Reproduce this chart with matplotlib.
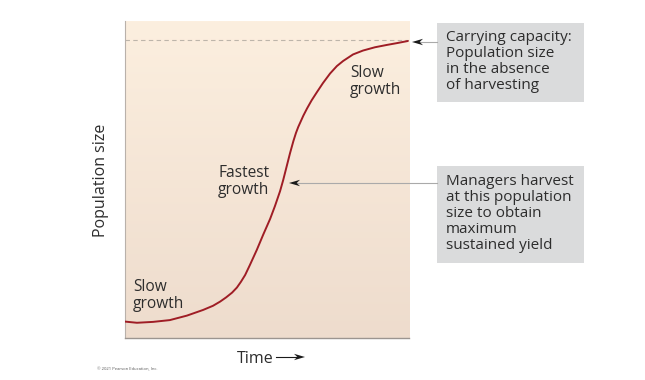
import matplotlib
matplotlib.use("Agg")
import matplotlib.pyplot as plt
import numpy as np
from matplotlib.colors import LinearSegmentedColormap
from matplotlib.patches import Rectangle, Polygon

# ── Data ─────────────────────────────────────────────────────────────────────
time = [0.00, 0.42, 0.99, 1.58, 2.18, 2.75, 3.10, 3.35, 3.56, 3.77, 3.94,
        4.08, 4.23, 4.40, 4.64, 4.87, 5.11, 5.28, 5.46, 5.57, 5.69, 5.81,
        5.93, 6.02, 6.10, 6.28, 6.41, 6.57, 6.76, 6.97, 7.22, 7.46, 7.68,
        8.03, 8.38, 8.80, 9.23, 9.58, 9.96]
population = [0.055, 0.051, 0.054, 0.060, 0.075, 0.094, 0.108, 0.122, 0.136,
              0.152, 0.169, 0.188, 0.211, 0.245, 0.295, 0.347, 0.399, 0.442,
              0.492, 0.529, 0.574, 0.619, 0.660, 0.687, 0.707, 0.745, 0.769,
              0.796, 0.824, 0.854, 0.886, 0.911, 0.928, 0.950, 0.963, 0.974,
              0.982, 0.988, 0.995]
carrying_capacity = 1.0

label_slow_top = "Slow\ngrowth"
label_fastest = "Fastest\ngrowth"
label_slow_bottom = "Slow\ngrowth"
box_capacity = "Carrying capacity:\nPopulation size\nin the absence\nof harvesting"
box_harvest = "Managers harvest\nat this population\nsize to obtain\nmaximum\nsustained yield"

W, H = 645, 380
FONT = "Open Sans"
TXT = "#2d2d2d"


def fx(px):
    return px / W


def fy(py):
    return 1 - py / H


fig = plt.figure(figsize=(W / 100, H / 100), dpi=100)
fig.patch.set_facecolor("white")
ax = fig.add_axes([fx(125), fy(338), (409 - 125) / W, (338 - 21) / H])

# background gradient
cmap = LinearSegmentedColormap.from_list("bg", ["#eedccd", "#fcefdf"])
grad = np.linspace(0, 1, 256).reshape(-1, 1)
ax.imshow(grad, cmap=cmap, aspect="auto", origin="lower",
          extent=[0, 10, 0, 1.062], zorder=0)

ax.axhline(carrying_capacity, color="#bdb5aa", lw=0.8, ls=(0, (4, 3)), zorder=1)
ax.plot(time, population, color="#9f1d25", lw=1.4, zorder=3,
        solid_joinstyle="round", solid_capstyle="round")

ax.set_xlim(0, 10)
ax.set_ylim(0, 1.062)
ax.set_xticks([])
ax.set_yticks([])
for s in ("top", "right"):
    ax.spines[s].set_visible(False)
ax.spines["left"].set_color("#b9b1aa")
ax.spines["left"].set_linewidth(0.8)
ax.spines["bottom"].set_color("#9c9590")
ax.spines["bottom"].set_linewidth(1.0)

# in-plot labels
kw = dict(family=FONT, fontsize=11.2, color=TXT, va="top", ha="left",
          linespacing=1.12)
fig.text(fx(350), fy(65), label_slow_top, **kw)
fig.text(fx(218), fy(165), label_fastest, **kw)
fig.text(fx(133), fy(279), label_slow_bottom, **kw)

# axis labels
fig.text(fx(101), fy(180), "Population size", family=FONT, fontsize=11.5,
         color=TXT, rotation=90, ha="center", va="center")
fig.text(fx(237), fy(363), "Time", family=FONT, fontsize=11.5, color=TXT,
         ha="left", va="baseline")


def arrow_head(x0, y0, direction=-1, length=11, half=3.2, color="#1a1a1a"):
    d = -direction
    pts = [(x0, y0), (x0 + d * length, y0 - half), (x0 + d * length * 0.7, y0),
           (x0 + d * length, y0 + half)]
    fig.patches.append(Polygon([(fx(a), fy(b)) for a, b in pts], closed=True,
                               transform=fig.transFigure, facecolor=color,
                               edgecolor="none", zorder=5))


# time arrow
fig.add_artist(plt.Line2D([fx(276), fx(298)], [fy(357), fy(357)],
                          color="#1a1a1a", lw=0.8, transform=fig.transFigure))
arrow_head(305, 357, direction=1, length=11, half=3.2)

# call-out boxes
for (x0, y0, x1, y1) in [(437, 23, 584, 102), (437, 166, 584, 263)]:
    fig.patches.append(Rectangle((fx(x0), fy(y1)), (x1 - x0) / W, (y1 - y0) / H,
                                 transform=fig.transFigure, facecolor="#dadbdc",
                                 edgecolor="none", zorder=1))
bkw = dict(family=FONT, fontsize=11, color=TXT, va="top", ha="left",
           linespacing=1.1, zorder=3)
fig.text(fx(446), fy(30), box_capacity, **bkw)
fig.text(fx(446), fy(174), box_harvest, **bkw)

# leader lines
for (xa, xb, y) in [(412, 437, 42), (289, 437, 183)]:
    fig.add_artist(plt.Line2D([fx(xa + 8), fx(xb)], [fy(y), fy(y)],
                              color="#aaaaaa", lw=0.8, transform=fig.transFigure))
    arrow_head(xa, y, direction=-1)

fig.text(fx(97), fy(369), "\u00a9 2021 Pearson Education, Inc.", family=FONT,
         fontsize=3, color="#555555", ha="left", va="center")

fig.savefig("out.png", dpi=100, facecolor="white")
